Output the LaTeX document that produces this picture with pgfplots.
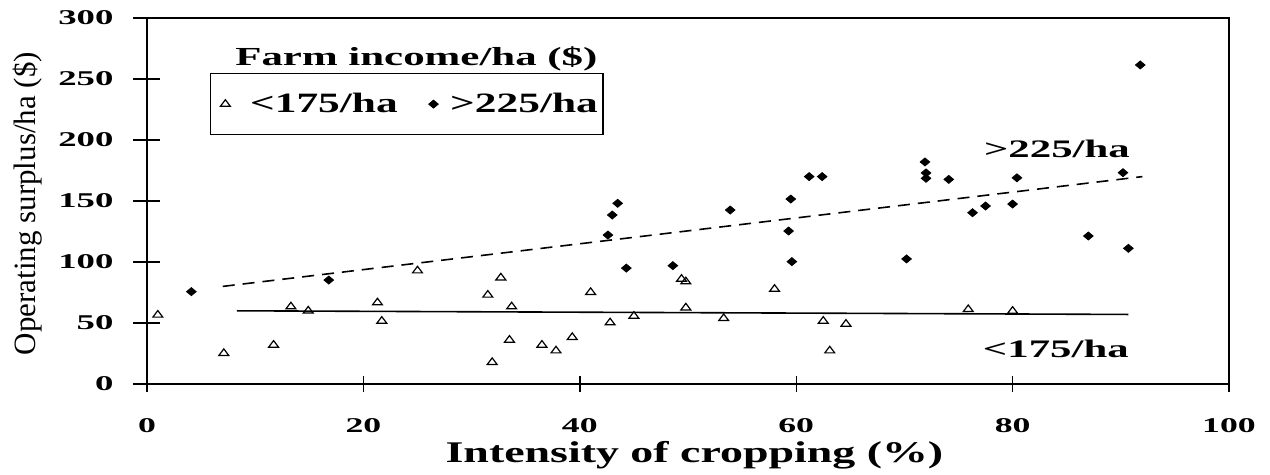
\documentclass[border=0pt]{standalone}
\usepackage{fontspec}
\setmainfont{Liberation Serif}
\usepackage{graphicx}
\usepackage{pgfplots}
\pgfplotsset{compat=1.18}

\newcommand{\legtext}[1]{\scalebox{1.55}[1]{\fontsize{14}{16}\selectfont\bfseries #1}}
\pgfplotsset{
  tri legend/.style={legend image code/.code={\path (-6.5pt,0pt) (10pt,0pt); \draw[##1] plot coordinates {(0pt,0pt)};}},
  dia legend/.style={legend image code/.code={\path (-6.5pt,0pt) (6pt,0pt); \draw[##1] plot coordinates {(0pt,0pt)};}},
}

\begin{document}
\begin{tikzpicture}
\begin{axis}[
  scale only axis, width=541pt, height=183pt,
  xmin=0, xmax=100, ymin=0, ymax=300,
  xtick={0,20,...,100}, ytick={0,50,...,300},
  xtick pos=left, ytick pos=left,
  tick align=center, major tick length=13.5pt,
  xtick style={/pgfplots/major tick length=8pt},
  tick style={black, line width=0.7pt},
  axis line style={line width=0.7pt},
  xticklabel={\scalebox{1.7}[1]{\bfseries\pgfmathprintnumber[assume math mode=true]{\tick}}},
  yticklabel={\scalebox{1.75}[1]{\bfseries\pgfmathprintnumber[assume math mode=true]{\tick}}},
  ticklabel style={font=\fontsize{10.5}{12}\selectfont},
  xticklabel style={yshift=-7pt},
  yticklabel style={xshift=-6.5pt},
  xlabel={\scalebox{1.53}[1]{\bfseries\fontsize{15}{18}\selectfont Intensity of cropping (\%)}},
  xlabel style={at={(axis description cs:0.506,0)}, anchor=center, yshift=-35.5pt},
  ylabel={\fontsize{15.5}{18}\selectfont Operating surplus/ha (\$)},
  ylabel style={at={(axis description cs:0,0.493)}, anchor=center, yshift=59.5pt},
  legend columns=2,
  legend style={at={(axis description cs:0.0582,0.8497)}, anchor=north west,
    draw=black, line width=0.7pt, fill=white,
    inner xsep=0.5pt, inner ysep=7.6pt,
    /tikz/every even column/.append style={column sep=9pt}},
]
% under 175/ha
\addplot[only marks, mark=triangle, mark size=2.2pt,
  mark options={xscale=1.3, line width=0.6pt, black}, tri legend]
  coordinates {
(1.0,56.6) (7.1,25.2) (11.7,32) (13.3,63.4) (14.9,60) (21.3,66.7)
(21.7,51.6) (25.0,92.9) (31.5,73) (31.9,17.8) (32.7,87.1) (33.5,36.1)
(33.7,63.4) (36.5,32) (37.8,27.3) (39.3,38.3) (41.0,75.2) (42.8,50.3)
(45.0,55.7) (49.4,86) (49.8,83.9) (49.8,62.5) (53.3,53.8) (58.0,77.8)
(62.5,51.6) (63.1,27.3) (64.6,49.2) (75.9,61.2) (80.0,59.8)
};
\addlegendentry{\legtext{<175/ha}}
% over 225/ha
\addplot[only marks, mark=diamond*, mark size=2pt,
  mark options={xscale=1.6, line width=0.4pt, black, fill=black}, dia legend]
  coordinates {
(4.1,75.7) (16.8,85.2) (42.6,122.1) (43.0,138.5) (43.5,148.1) (44.3,95)
(48.6,97) (53.9,142.6) (59.5,151.6) (59.3,125.4) (59.6,100.3) (61.2,170)
(62.4,170) (70.2,102.5) (71.9,182) (72.0,173) (72.0,168.6) (74.1,167.7)
(76.3,140.4) (77.5,145.9) (80.0,147.5) (80.4,169) (87.0,121.3) (90.2,173.2)
(90.7,111.2) (91.8,261.5)
};
\addlegendentry{\legtext{>225/ha}}
% trend lines
\addplot[forget plot, black, line width=0.8pt] coordinates {(8.3,60) (90.7,57)};
\addplot[forget plot, black, line width=0.8pt, dash pattern=on 6pt off 4pt] coordinates {(7,80) (92,170)};
\node[anchor=base, font=\bfseries\fontsize{13}{15}\selectfont] at (axis description cs:0.249,0.869) {\scalebox{1.65}[1]{Farm income/ha (\$)}};
\node[anchor=base, font=\bfseries\fontsize{12.6}{15}\selectfont] at (axis cs:84.1,186) {\scalebox{1.7}[1]{>225/ha}};
\node[anchor=base, font=\bfseries\fontsize{12.6}{15}\selectfont] at (axis cs:84.0,22.1) {\scalebox{1.7}[1]{<175/ha}};
\end{axis}
\pgfresetboundingbox
\path ([shift={(-73.5pt,-45.5pt)}]current axis.south west) rectangle ([shift={(20.5pt,9pt)}]current axis.north east);
\end{tikzpicture}
\end{document}
